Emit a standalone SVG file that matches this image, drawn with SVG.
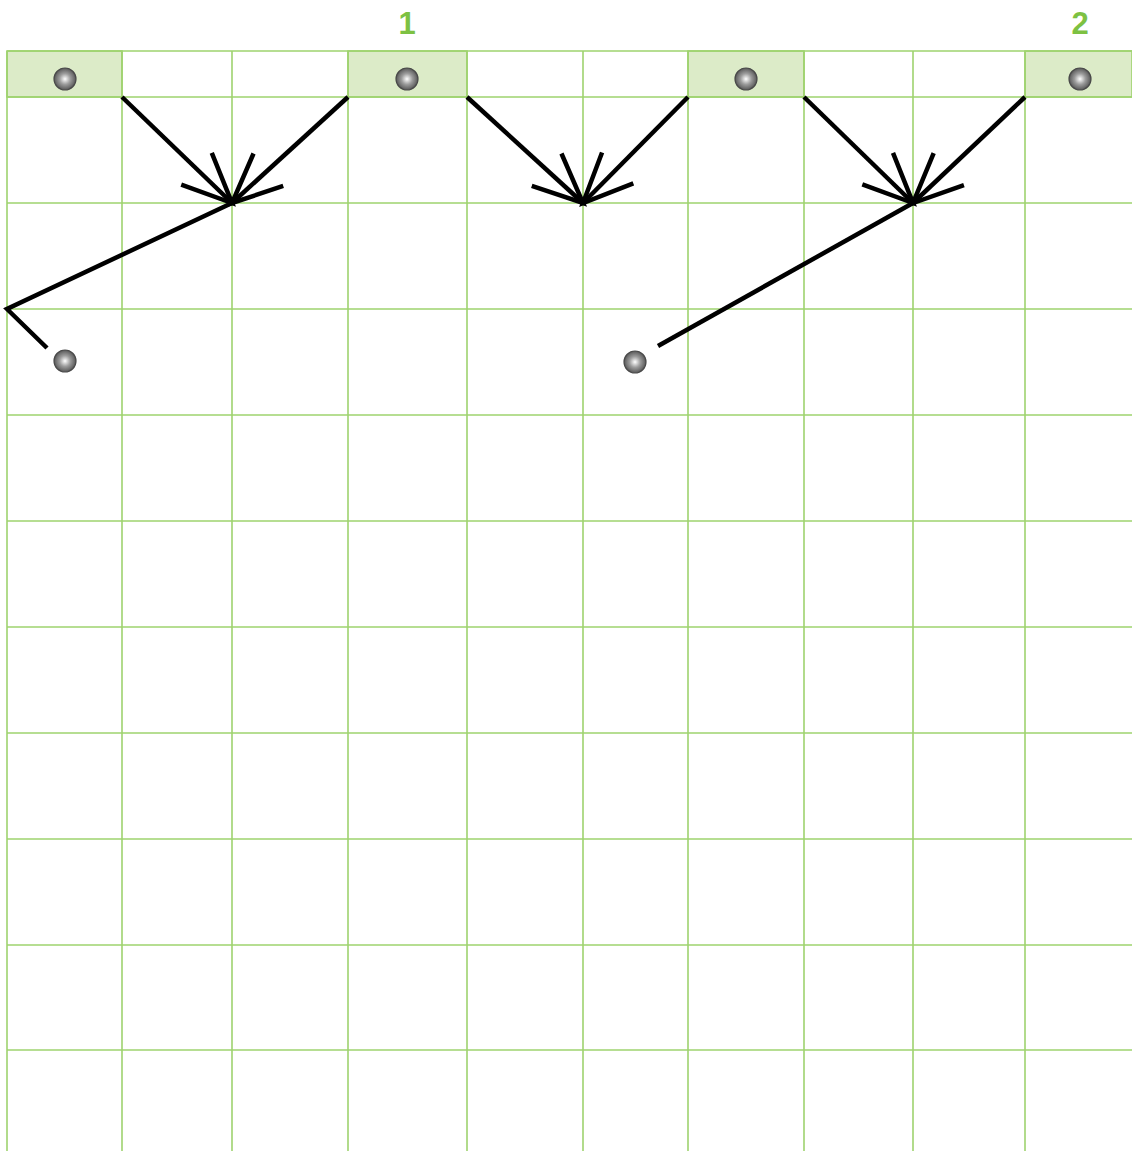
<svg xmlns="http://www.w3.org/2000/svg" width="1132" height="1151" viewBox="0 0 1132 1151">
<style>
.grid{stroke:#9fd36f;stroke-width:1.6;fill:none}
.cell{fill:#dcebc8;stroke:#9fd36f;stroke-width:1.6}
.ball{fill:url(#bg);stroke:#4a4a4a;stroke-width:1.2}
.conn{stroke:#000;stroke-width:4.5;fill:none}
.lbl{font-family:"Liberation Sans",Arial,sans-serif;font-weight:bold;font-size:31px;fill:#7dc142;text-anchor:middle}
</style>
<defs>
<radialGradient id="bg" cx="0.5" cy="0.5" r="0.55">
<stop offset="0" stop-color="#ffffff"/>
<stop offset="0.45" stop-color="#9c9c9c"/>
<stop offset="1" stop-color="#4a4a4a"/>
</radialGradient>
<marker id="ah" markerUnits="userSpaceOnUse" markerWidth="70" markerHeight="70" viewBox="-60 -35 70 70" refX="0" refY="0" orient="auto">
<path d="M-49.3,-22 L0,0 L-49.3,22" fill="none" stroke="#000" stroke-width="4.5"/>
</marker>
</defs>
<rect width="1132" height="1151" fill="#fff"/>
<g id="grid">
<rect class="cell" x="7" y="51" width="115" height="46"/>
<rect class="cell" x="348" y="51" width="119" height="46"/>
<rect class="cell" x="688" y="51" width="116" height="46"/>
<rect class="cell" x="1025" y="51" width="107" height="46"/>
<path class="grid" d="M7,51V1151M122,51V1151M232,51V1151M348,51V1151M467,51V1151M583,51V1151M688,51V1151M804,51V1151M913,51V1151M1025,51V1151M7,51H1132M7,97H1132M7,203H1132M7,309H1132M7,415H1132M7,521H1132M7,627H1132M7,733H1132M7,839H1132M7,945H1132M7,1050H1132"/>
</g>
<g id="labels">
<text class="lbl" x="407" y="34">1</text>
<text class="lbl" x="1080" y="34">2</text>
</g>
<g id="nodes">
<g id="n1"><circle class="ball" cx="65" cy="79" r="11"/></g>
<g id="n2"><circle class="ball" cx="407" cy="79" r="11"/></g>
<g id="n3"><circle class="ball" cx="746" cy="79" r="11"/></g>
<g id="n4"><circle class="ball" cx="1080" cy="79" r="11"/></g>
<g id="n5"><circle class="ball" cx="65" cy="361" r="11"/></g>
<g id="n6"><circle class="ball" cx="635" cy="362" r="11"/></g>
</g>
<g id="connectors">
<line class="conn" x1="122" y1="97" x2="232" y2="203" marker-end="url(#ah)"/>
<line class="conn" x1="348" y1="97" x2="232" y2="203" marker-end="url(#ah)"/>
<line class="conn" x1="467" y1="97" x2="583" y2="203" marker-end="url(#ah)"/>
<line class="conn" x1="688" y1="97" x2="583" y2="203" marker-end="url(#ah)"/>
<line class="conn" x1="804" y1="97" x2="913" y2="203" marker-end="url(#ah)"/>
<line class="conn" x1="1025" y1="97" x2="913" y2="203" marker-end="url(#ah)"/>
<polyline class="conn" points="232,203 7,309 47,348"/>
<line class="conn" x1="913" y1="203" x2="658" y2="346"/>
</g>
</svg>
